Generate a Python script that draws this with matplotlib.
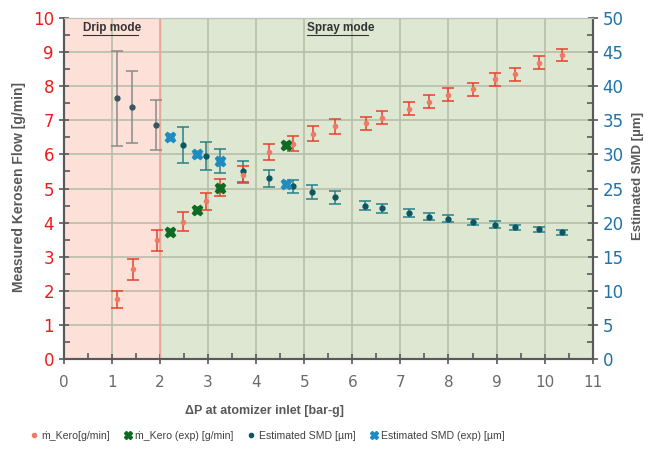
import matplotlib.pyplot as plt
from matplotlib.ticker import MultipleLocator
from matplotlib.lines import Line2D

plt.rcParams['font.family'] = ['DejaVu Sans']
narrow = ['Liberation Sans Narrow', 'Liberation Sans', 'DejaVu Sans']

# measured kerosene flow [g/min]
kero_dp = [1.10, 1.44, 1.93, 2.49, 2.96, 3.24, 3.73, 4.27, 4.77, 5.18, 5.65,
           6.28, 6.62, 7.18, 7.59, 8.00, 8.50, 8.97, 9.39, 9.88, 10.35]
kero_flow = [1.76, 2.63, 3.48, 4.03, 4.62, 5.02, 5.41, 6.07, 6.31, 6.61, 6.82,
             6.91, 7.08, 7.33, 7.54, 7.74, 7.91, 8.20, 8.34, 8.69, 8.92]
kero_err = [0.25, 0.30, 0.30, 0.28, 0.26, 0.25, 0.24, 0.24, 0.22, 0.22, 0.21,
            0.19, 0.19, 0.19, 0.19, 0.19, 0.19, 0.19, 0.18, 0.18, 0.18]

# experimental points
exp_dp = [2.20, 2.78, 3.24, 4.63]
exp_flow = [3.74, 4.37, 5.02, 6.27]
exp_smd = [32.6, 30.1, 29.0, 25.6]

# estimated SMD [um], drip mode
drip_dp = [1.10, 1.43, 1.92]
drip_smd = [38.2, 36.9, 34.3]
drip_err = [7.0, 5.3, 3.7]

# estimated SMD [um], spray mode
smd_dp = [2.48, 2.95, 3.25, 3.72, 4.27, 4.76, 5.17, 5.65, 6.27, 6.62, 7.18,
          7.59, 7.99, 8.50, 8.96, 9.38, 9.88, 10.35]
smd = [31.4, 29.75, 29.0, 27.5, 26.5, 25.3, 24.5, 23.7, 22.5, 22.1, 21.4,
       20.9, 20.6, 20.1, 19.7, 19.3, 19.0, 18.6]
smd_err = [2.6, 2.0, 1.8, 1.55, 1.25, 1.0, 1.0, 0.9, 0.65, 0.65, 0.6,
           0.5, 0.5, 0.5, 0.5, 0.4, 0.4, 0.35]

red = '#e8402a'
green = '#0f6b22'
teal = '#0b5663'
blue = '#1e8cc3'
grey = '#595959'

fig = plt.figure(figsize=(6.5, 4.57), dpi=100)
ax = fig.add_axes([0.098, 0.214, 0.814, 0.747])
ax2 = ax.twinx()

ax.axvspan(0, 2, color='#fde1d8', zorder=0)
ax.axvspan(2, 11, color='#dde7d1', zorder=0)
ax.axvline(2, color='#e6a898', lw=1, zorder=1)
ax.grid(True, color='#b8bfa8', lw=1.2, zorder=1)
ax.set_axisbelow(True)

ax.set_xlim(0, 11)
ax.set_ylim(0, 10)
ax2.set_ylim(0, 50)

# SMD on right axis
ax2.errorbar(drip_dp, drip_smd, yerr=drip_err, fmt='o', ms=3.5, color='#3a5560',
             ecolor='#8a8a8a', elinewidth=1.1, capsize=4, capthick=1.1, zorder=3)
ax2.errorbar(smd_dp, smd, yerr=smd_err, fmt='o', ms=3.5, color=teal,
             ecolor='#2a8088', elinewidth=1.1, capsize=4, capthick=1.1, zorder=3)
ax2.plot(exp_dp, exp_smd, 'X', ms=7.5, color=blue, mec=blue, zorder=4)

# flow values drawn on ax2, scaled to the left axis (10 g/min = 50 um)
flow_scale = 5
ax2.errorbar(kero_dp, [v * flow_scale for v in kero_flow],
             yerr=[e * flow_scale for e in kero_err], fmt='o', ms=3,
             color='#f07a68', ecolor=red, elinewidth=1.1, capsize=4,
             capthick=1.1, zorder=3)
ax2.plot(exp_dp, [v * flow_scale for v in exp_flow], 'X', ms=7.5, color=green,
         mec=green, zorder=4)

for a in (ax, ax2):
    for s in a.spines.values():
        s.set_color('#bfbfbf')
    for side in ('left', 'right', 'bottom'):
        a.spines[side].set_color(grey)
        a.spines[side].set_linewidth(1.5)

ax.xaxis.set_major_locator(MultipleLocator(1))
ax.xaxis.set_minor_locator(MultipleLocator(0.5))
ax.yaxis.set_major_locator(MultipleLocator(1))
ax.yaxis.set_minor_locator(MultipleLocator(0.5))
ax2.yaxis.set_major_locator(MultipleLocator(5))
ax2.yaxis.set_minor_locator(MultipleLocator(2.5))

ax.tick_params(axis='x', which='major', direction='inout', length=7, width=1.2,
               color=grey, labelcolor='#6a6a6a', labelsize=11, pad=8)
ax.tick_params(axis='x', which='minor', direction='in', length=4, width=1.2, color=grey)
ax.tick_params(axis='y', which='major', direction='inout', length=7, width=1.2,
               color=grey, labelcolor='#ee1c1c', labelsize=12)
ax.tick_params(axis='y', which='minor', direction='in', length=4, width=1.2, color=grey)
ax2.tick_params(axis='y', which='major', direction='inout', length=7, width=1.2,
                color=grey, labelcolor='#2272a8', labelsize=12)
ax2.tick_params(axis='y', which='minor', direction='in', length=4, width=1.2, color=grey)

ax.set_xlabel('ΔP at atomizer inlet [bar-g]', fontsize=9, fontweight='bold',
              color=grey, family=narrow)
ax.xaxis.set_label_coords(0.38, -0.135)
ax.set_ylabel('Measured Kerosen Flow [g/min]', fontsize=10, fontweight='bold',
              color=grey, family=narrow)
ax.yaxis.set_label_coords(-0.072, 0.503)
ax2.set_ylabel('Estimated SMD [µm]', fontsize=9.5, fontweight='bold',
               color=grey, family=narrow)
ax2.yaxis.set_label_coords(1.075, 0.537)

ax.text(0.4, 9.7, 'Drip mode', fontsize=8.5, fontweight='bold', color='#333333',
        va='center', family=narrow)
ax.text(5.05, 9.7, 'Spray mode', fontsize=8.5, fontweight='bold', color='#333333',
        va='center', family=narrow)
ax.plot([0.4, 1.55], [9.5, 9.5], color='#333333', lw=0.8, zorder=5)
ax.plot([5.05, 6.32], [9.5, 9.5], color='#333333', lw=0.8, zorder=5)

handles = [
    Line2D([], [], marker='o', ls='none', ms=3, color='#f07a68'),
    Line2D([], [], marker='X', ls='none', ms=6, color=green),
    Line2D([], [], marker='o', ls='none', ms=3, color=teal),
    Line2D([], [], marker='X', ls='none', ms=6, color=blue),
]
labels = ['ṁ_Kero[g/min]', 'ṁ_Kero (exp) [g/min]', 'Estimated SMD [µm]',
          'Estimated SMD (exp) [µm]']
fig.legend(handles, labels, loc='center', bbox_to_anchor=(0.41, 0.046), ncol=4,
           frameon=False, prop={'family': narrow, 'size': 7.6}, handletextpad=0.2,
           handlelength=1.0, columnspacing=1.2, labelcolor='#404040')

fig.savefig('out.png', dpi=100)
